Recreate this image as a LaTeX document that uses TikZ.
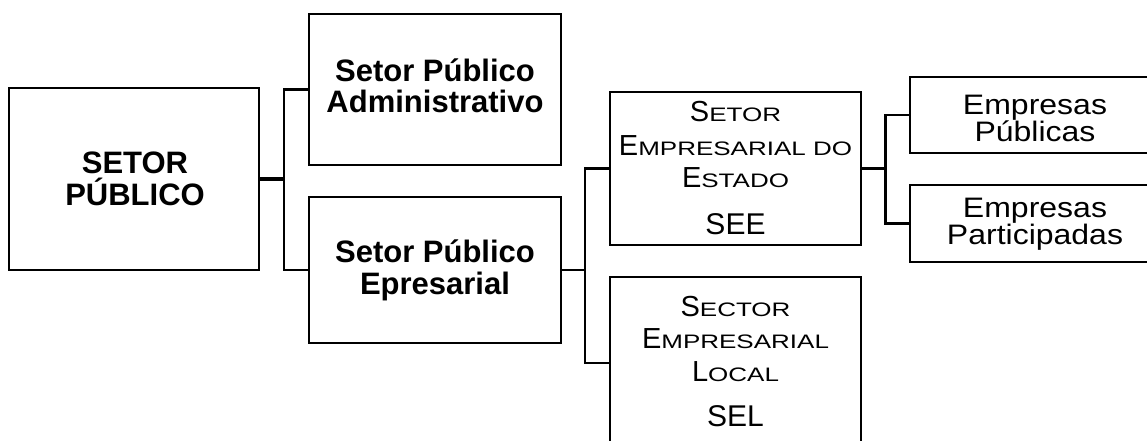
\documentclass[tikz,border=0pt]{standalone}
\usepackage{fontspec}
\setmainfont{Liberation Sans}
\usepackage{graphicx}
\newcommand\scx[1]{\scalebox{1}[0.75]{\fontsize{26}{26}\selectfont #1}}
\newcommand\vsq[1]{\scalebox{1}[0.88]{#1}}
\begin{document}
\begin{tikzpicture}[x=1pt,y=-1pt,
  box/.style={draw=black, line width=2.6pt, inner sep=0pt},
  conn/.style={draw=black, line width=2.2pt},
  mainc/.style={draw=black, line width=3.2pt},
  bt/.style={font=\fontsize{31}{31}\selectfont\bfseries, anchor=base, inner sep=0pt},
  rt/.style={font=\fontsize{32}{32}\selectfont, anchor=base, inner sep=0pt},
  st/.style={font=\fontsize{29}{29}\selectfont, anchor=base, inner sep=0pt},
  ab/.style={font=\fontsize{30}{30}\selectfont, anchor=base, inner sep=0pt}]
\useasboundingbox (0,0) rectangle (1147,441);
\fill[white] (0,0) rectangle (1147,441);
\clip (0,0) rectangle (1147,441);
% boxes
\node[box, minimum width=250pt, minimum height=182pt] (sp) at (134,179) {};
\node[box, minimum width=252pt, minimum height=151pt] (spa) at (435,89.5) {};
\node[box, minimum width=252pt, minimum height=146pt] (spe) at (435,270) {};
\node[box, minimum width=251pt, minimum height=153pt] (see) at (735.5,168.5) {};
\node[box, minimum width=251pt, minimum height=172pt] (sel) at (735.5,363) {};
\node[box, minimum width=250pt, minimum height=76pt] (ep) at (1035,115) {};
\node[box, minimum width=250pt, minimum height=77pt] (epa) at (1035,223.5) {};
% texts
\node[bt] (t1a) at (135,173.3) {SETOR};
\node[bt] (t1b) at (135,205) {PÚBLICO};
\node[bt] (t2a) at (435,82) {Setor Público};
\node[bt] (t2b) at (435,113) {Administrativo};
\node[bt] (t3a) at (435,262) {Setor Público};
\node[bt] (t3b) at (435,294) {Epresarial};
\node[st] (t4a) at (735.5,121.7) {S\scx{ETOR}};
\node[st] (t4b) at (735.5,155) {E\scx{MPRESARIAL DO}};
\node[st] (t4c) at (735.5,187.7) {E\scx{STADO}};
\node[ab] (t4d) at (735.5,234.3) {SEE};
\node[st] (t5a) at (735.5,316.7) {S\scx{ECTOR}};
\node[st] (t5b) at (735.5,348.3) {E\scx{MPRESARIAL}};
\node[st] (t5c) at (735.5,381.7) {L\scx{OCAL}};
\node[ab] (t5d) at (735.5,426.7) {SEL};
\node[rt] (t6a) at (1035,114.5) {\vsq{Empresas}};
\node[rt] (t6b) at (1035,141.5) {\vsq{Públicas}};
\node[rt] (t7a) at (1035,217) {\vsq{Empresas}};
\node[rt] (t7b) at (1035,244) {\vsq{Participadas}};
% connectors
\coordinate (j1) at (284,179);
\coordinate (j2) at (585,270);
\coordinate (j3) at (885.5,168.5);
\draw[mainc] (sp.east) -- (j1);
\draw[conn] (spa.west) -| (j1) |- (spe.west);
\draw[conn] (spe.east) -- (j2);
\draw[conn] (see.west) -| (j2) |- (sel.west);
\draw[conn] (see.east) -- (j3);
\draw[conn] (ep.west) -| (j3) |- (epa.west);
\end{tikzpicture}
\end{document}
